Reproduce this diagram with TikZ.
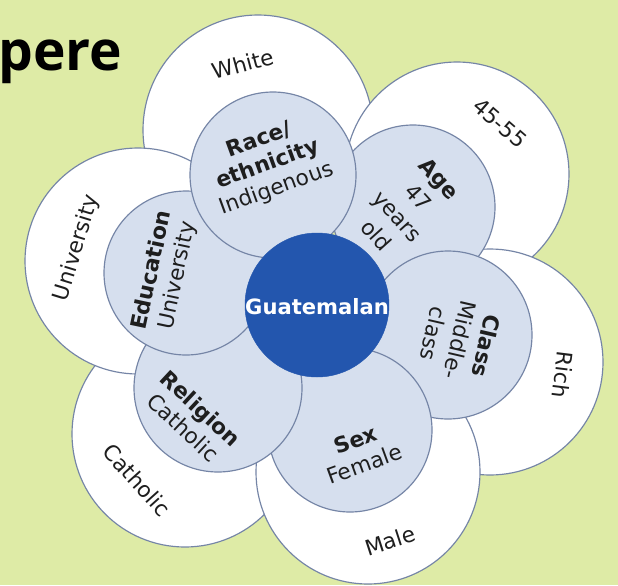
\documentclass[tikz,border=0pt]{standalone}
\usepackage{fontspec}
\setmainfont{DejaVu Sans}
\newfontfamily\titlefont{Open Sans}

\definecolor{bgGreen}{HTML}{DEEBA6}
\definecolor{petalBlue}{HTML}{D6DFEE}
\definecolor{rimBlue}{HTML}{7585A6}
\definecolor{coreBlue}{HTML}{2356AE}
\definecolor{inkGray}{HTML}{1E1E1E}

\begin{document}
\begin{tikzpicture}[x=0.03cm, y=-0.03cm,
    outer/.style={fill=white, draw=rimBlue, line width=1pt},
    petal/.style={fill=petalBlue, draw=rimBlue, line width=1pt},
    lbl/.style={text=inkGray, align=center, inner sep=0pt,
        font=\fontsize{18.5}{22}\selectfont}]
        \useasboundingbox (0, 0) rectangle (618, 585);
        \fill[bgGreen] (0, 0) rectangle (618, 585);
        \clip (0, 0) rectangle (618, 585);

        % outer ring
        \foreach \x/\y/\r in {258/130/115, 457/174/112, 490/362/113,
                              185/434/113, 368/472/112, 138/261/113} {
            \filldraw[outer] (\x, \y) circle (\r);
        }

        % inner ring
        \foreach \x/\y/\r in {413/207/82, 448/335/84, 350/430/82,
                              218/388/84, 186/273/82, 273/175/83} {
            \filldraw[petal] (\x, \y) circle (\r);
        }

        \filldraw[fill=coreBlue, draw=coreBlue] (317, 305) circle (72);

        \node[lbl, rotate=15] (white) at (243, 64) {White};
        \node[lbl, rotate=-41] (agerange) at (500, 123) {45-55};
        \node[lbl, rotate=-97] (rich) at (563, 375) {Rich};
        \node[lbl, rotate=18] (male) at (390, 541) {Male};
        \node[lbl, rotate=-48] (catholic) at (137, 480) {Catholic};
        \node[lbl, rotate=73] (university) at (77, 248) {University};

        \node[lbl, rotate=20] (race) at (268, 165)
            {\textbf{Race/}\\\textbf{ethnicity}\\Indigenous};
        \node[lbl, rotate=-48, font=\fontsize{18.5}{24}\selectfont] (age) at (408, 207)
            {\textbf{Age}\\47\\years\\old};
        \node[lbl, rotate=-103, font=\fontsize{18.5}{23}\selectfont] (class) at (460, 340)
            {\textbf{Class}\\Middle-\\class};
        \node[lbl, rotate=20] (sex) at (360, 452) {\textbf{Sex}\\Female};
        \node[lbl, rotate=-43] (religion) at (192, 418) {\textbf{Religion}\\Catholic};
        \node[lbl, rotate=78] (education) at (165, 273) {\textbf{Education}\\University};

        \node[lbl, text=white, font=\fontsize{18}{20}\selectfont\bfseries] (core) at (317, 307) {Guatemalan};

        \node[anchor=base west, inner sep=0pt] (title) at (-2, 70)
            {\titlefont\fontsize{47}{50}\selectfont\bfseries pere};
\end{tikzpicture}
\end{document}
